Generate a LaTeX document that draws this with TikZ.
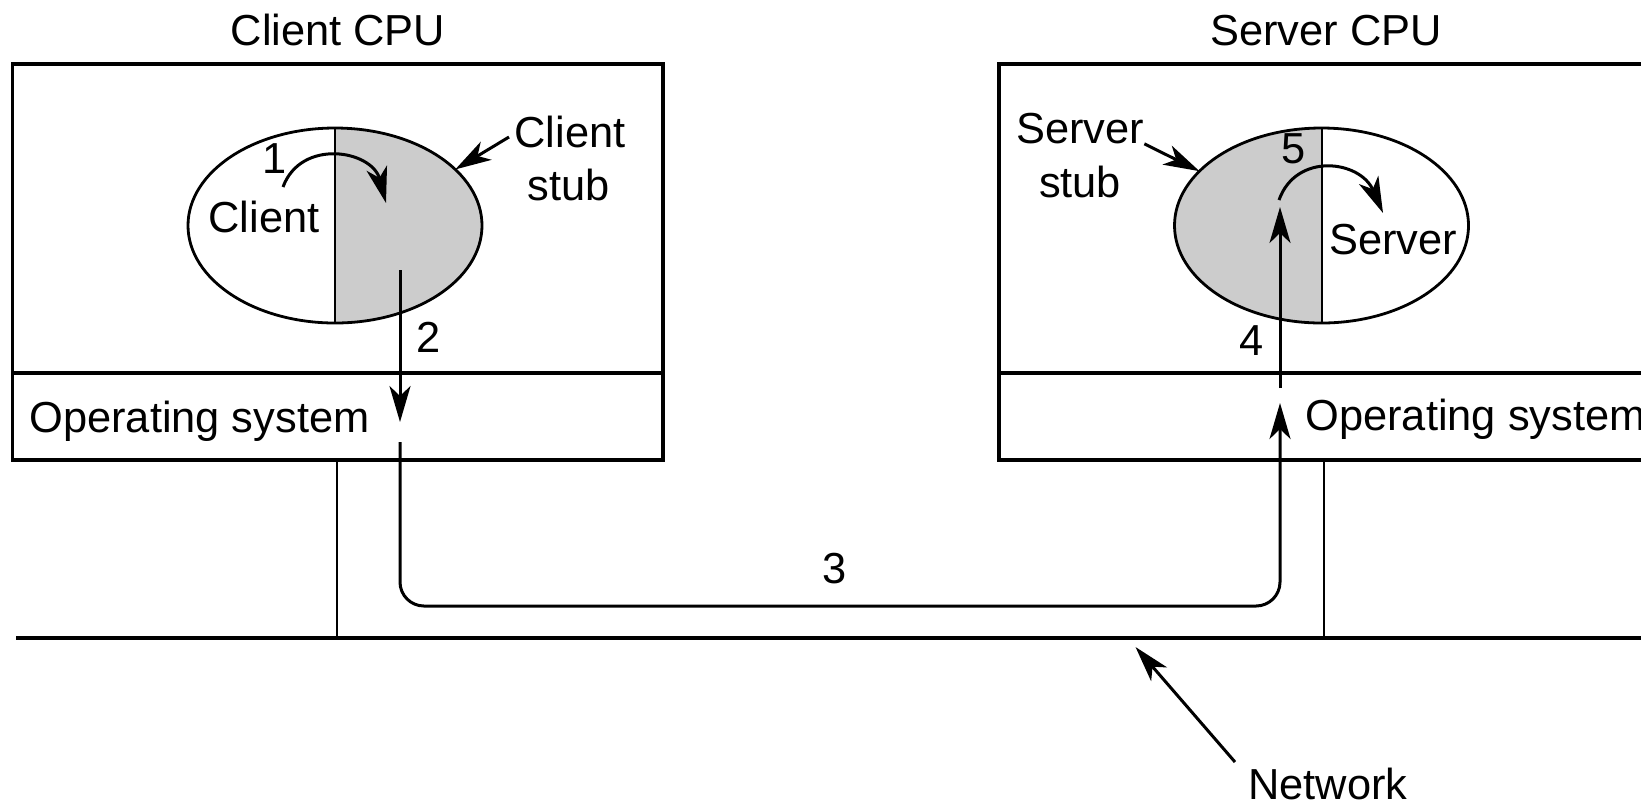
\documentclass[tikz,border=0pt]{standalone}
\usepackage{fontspec}
\setmainfont{Liberation Sans}
\usetikzlibrary{arrows.meta,shapes.geometric}
\definecolor{stubgray}{gray}{0.8}

\tikzset{
	lbl/.style={inner sep=0pt, anchor=base, font=\fontsize{21.7}{26}\selectfont},
	box/.style={line width=1.6pt},
	half/.style={ellipse, draw, line width=1.4pt, minimum width=147pt, minimum height=97.5pt, inner sep=0pt, outer sep=0pt},
	msg/.style={line width=1.5pt, -{Stealth[length=18pt,width=10.5pt,inset=5pt]}},
}

\begin{document}
\begin{tikzpicture}[x=0.5pt, y=-0.5pt]
	\useasboundingbox (0,0) rectangle (1641,805);

	% machines and network
	\draw[box] (12.5,64) rectangle (663,460);
	\draw[box] (12.5,373) -- (663,373);
	\draw[box] (999,64) rectangle (1700,460);
	\draw[box] (999,373) -- (1700,373);
	\draw[line width=1.8pt] (16,638) -- (1700,638);
	\draw[line width=1pt] (337,460) -- (337,638);
	\draw[line width=1pt] (1324,460) -- (1324,638);

	\node[lbl] (ccpu) at (338,45) {Client CPU};
	\node[lbl] (scpu) at (1326,45) {Server CPU};

	% client and its stub
	\node[half, path picture={\fill[stubgray] (path picture bounding box.north) rectangle (path picture bounding box.south east);}] (cli) at (335,225.5) {};
	\draw[line width=1pt] (cli.north) -- (cli.south);
	\node[lbl] (one) at (275,173) {1};
	\node[lbl] (clientlbl) at (264,232) {Client};
	\node[lbl] (cstub1) at (570,147) {Client};
	\node[lbl] (cstub2) at (569,200) {stub};
	\node[lbl] (two) at (429,352) {2};
	\node[lbl, anchor=base west] (cos) at (29,432) {Operating system};

	% server and its stub
	\node[half, path picture={\fill[stubgray] (path picture bounding box.north) rectangle (path picture bounding box.south west);}] (srv) at (1321.5,225.5) {};
	\draw[line width=1pt] (srv.north) -- (srv.south);
	\node[lbl] (sstub1) at (1080,143) {Server};
	\node[lbl] (sstub2) at (1080,197) {stub};
	\node[lbl] (five) at (1294,163) {5};
	\node[lbl] (serverlbl) at (1393,254) {Server};
	\node[lbl] (four) at (1252,355) {4};
	\node[lbl, anchor=base west] (sos) at (1305,430) {Operating system};

	\node[lbl] (three) at (835,583) {3};
	\node[lbl] (net) at (1328,799) {Network};

	% steps 1 to 5
	\coordinate (c1s) at (283,187);
	\coordinate (c1e) at (386,203);
	\coordinate (c2s) at (400,270);
	\coordinate (c2e) at (400,422);
	\coordinate (c3s) at (400,442);
	\coordinate (c3a) at (400,606);
	\coordinate (c3b) at (1280,606);
	\coordinate (c3e) at (1280,403);
	\coordinate (c4s) at (1280,388);
	\coordinate (c4e) at (1280,207);
	\coordinate (c5s) at (1279,200);
	\coordinate (c5e) at (1383,213);
	\draw[msg] (c1s) .. controls (301,138) and (372,150) .. (c1e);
	\draw[msg] (c2s) -- (c2e);
	\draw[msg, rounded corners=12pt] (c3s) -- (c3a) -- (c3b) -- (c3e);
	\draw[msg] (c4s) -- (c4e);
	\draw[msg] (c5s) .. controls (1296,152) and (1360,160) .. (c5e);

	% pointers to the stubs and the network
	\coordinate (cstubtail) at (509,137);
	\coordinate (nettail) at (1235,762);
	\coordinate (nettip) at (1135.5,647);
	\draw[msg] (cstubtail) -- (cli.25);
	\draw[msg] (sstub1.south east) -- (srv.156);
	\draw[msg] (nettail) -- (nettip);
\end{tikzpicture}
\end{document}
